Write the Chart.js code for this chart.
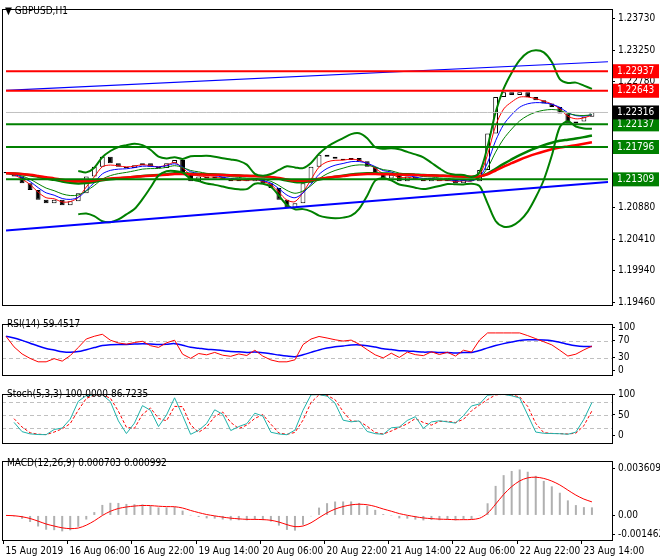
<!DOCTYPE html>
<html><head><meta charset="utf-8">
<script src="https://cdn.jsdelivr.net/npm/chart.js@4"></script>
<style>
body{margin:0;background:#fff;width:660px;height:560px;overflow:hidden;position:relative}
.p{position:absolute;left:0;width:660px}
.lbl{position:absolute;font-size:10px;color:#000;font-family:"DejaVu Sans Condensed","DejaVu Sans",sans-serif}
</style></head><body>
<div class="p" style="top:0;height:314px"><canvas id="c1" width="660" height="314"></canvas></div>
<div class="p" style="top:315px;height:69px"><canvas id="c2" width="660" height="69"></canvas></div>
<div class="p" style="top:385px;height:67px"><canvas id="c3" width="660" height="67"></canvas></div>
<div class="p" style="top:452px;height:108px"><canvas id="c4" width="660" height="108"></canvas></div>
<div class="lbl" style="left:5px;top:5px">▼ GBPUSD,H1</div>
<div class="lbl" style="left:7px;top:318px">RSI(14) 59.4517</div>
<div class="lbl" style="left:7px;top:388px">Stoch(5,3,3) 100.0000 86.7235</div>
<div class="lbl" style="left:7px;top:457px">MACD(12,26,9) 0.000703 0.000992</div>
<script>
const closes=[1.2140,1.2135,1.2125,1.2115,1.2100,1.2095,1.2100,1.2092,1.2098,1.2110,1.2135,1.2150,1.2165,1.2155,1.2150,1.2148,1.2152,1.2155,1.2150,1.2148,1.2155,1.2160,1.2140,1.2128,1.2135,1.2132,1.2135,1.2130,1.2128,1.2130,1.2128,1.2132,1.2125,1.2118,1.2100,1.2088,1.2095,1.2125,1.2150,1.2168,1.2165,1.2162,1.2160,1.2163,1.2158,1.2150,1.2140,1.2132,1.2138,1.2128,1.2135,1.2130,1.2128,1.2132,1.2128,1.2130,1.2125,1.2130,1.2128,1.2145,1.2200,1.2255,1.2262,1.2258,1.2262,1.2255,1.2250,1.2245,1.2240,1.2230,1.2215,1.2218,1.2225,1.2232];
const firstOpen=1.2142;
const timeLabels=["15 Aug 2019","16 Aug 06:00","16 Aug 22:00","19 Aug 14:00","20 Aug 06:00","20 Aug 22:00","21 Aug 14:00","22 Aug 06:00","22 Aug 22:00","23 Aug 14:00"];
const priceTicks=[1.23730,1.23250,1.22780,1.20880,1.20410,1.19940,1.19460];
const redLevels=[1.22937,1.22643];
const greenLevels=[1.22137,1.21796,1.21309];
const currentPrice=1.22316;
const blueTrendUpper=[1.2265,1.2308];
const blueTrendLower=[1.2054,1.2127];
const rsiTicks=[100,70,30,0], stochTicks=[100,80,50,20,0], macdTicks=[0.003609,0.00,-0.001462];

const FONT='"DejaVu Sans Condensed", "DejaVu Sans"';
const N=76;
const labels=Array.from({length:N},(_,i)=>i);
const opens=closes.map((c,i)=>i?closes[i-1]:firstOpen);
function sma(a,p){return a.map((_,i)=>i<p-1?null:a.slice(i-p+1,i+1).reduce((s,v)=>s+v,0)/p);}
function ema(a,p){const k=2/(p+1);let e=null;return a.map(v=>{if(v==null)return null;e=e==null?v:v*k+e*(1-k);return e;});}
function pad(a){return a.concat(Array(N-a.length).fill(null));}
const bbMid=sma(closes,10);
const bbUp=bbMid.map((m,i)=>{if(m==null)return null;const s=closes.slice(i-9,i+1);const sd=Math.sqrt(s.reduce((t,v)=>t+(v-m)**2,0)/10);return m+2*sd;});
const bbLo=bbMid.map((m,i)=>m==null?null:2*m-bbUp[i]);
const ma1=ema(closes,3),ma2=ema(closes,5),ma3=ema(closes,8),maSlow=ema(closes,40),maSlow2=ema(closes,30);
const rsi=[];let ag=0.0004,al=0.0002;closes.forEach((c,i)=>{if(!i){rsi.push(80);return;}const d=c-closes[i-1];const g=Math.max(d,0),l=Math.max(-d,0);ag=(ag*4+g)/5;al=(al*4+l)/5;rsi.push(Math.max(20,Math.min(88,100-100/(1+ag/al))));});
const rsiMa=ema(rsi,12);
const kRaw=closes.map((c,i)=>{const s=closes.slice(Math.max(0,i-3),i+1);const hi=Math.max(...s)+0.0001,lo=Math.min(...s)-0.0001;return 100*(c-lo)/(hi-lo);});
const kS=sma(kRaw,2),dS=sma(kS.map(v=>v==null?50:v),2);
const e1=ema(closes,6),e2=ema(closes,13);const macd=closes.map((_,i)=>e1[i]-e2[i]);const sig=ema(macd,5);

function lineDS(d,c,w,extra){return Object.assign({type:'line',data:pad(d),borderColor:c,borderWidth:w,pointRadius:0,fill:false,tension:0.3},extra||{});}
function hline(v,c,w){return {type:'line',data:Array(N).fill(v),borderColor:c,borderWidth:w,pointRadius:0,fill:false};}
function tline(a,b,c,w){const d=Array(N).fill(null);d[0]=a;d[N-1]=b;return {type:'line',data:d,borderColor:c,borderWidth:w,pointRadius:0,spanGaps:true};}

const frame={id:'frame',afterDraw(ch){const a=ch.chartArea,x=ch.ctx;x.save();x.strokeStyle='#000';x.lineWidth=1;x.strokeRect(a.left+0.5,a.top+0.5,a.right-a.left,a.bottom-a.top);x.restore();}};
function yScale(min,max,ticks,fmt){return {position:'right',min,max,afterBuildTicks(s){s.ticks=ticks.map(v=>({value:v}));},afterFit(s){s.width=48;},
 ticks:{color:'#000',font:{size:10,family:FONT},padding:3,callback:fmt},grid:{drawOnChartArea:false,color:'#000',tickLength:3},border:{color:'#000'}};}
const xHidden={display:false,offset:true};
const base={responsive:false,animation:false,plugins:{legend:{display:false},tooltip:{enabled:false}},layout:{padding:{left:2,top:1,right:0,bottom:0}}};

const boxes={id:'boxes',afterDraw(ch){const y=ch.scales.y,a=ch.chartArea,x=ch.ctx;x.save();x.font='10px '+FONT;x.textBaseline='middle';
 const items=redLevels.map(v=>[v,'#ff0000']).concat(greenLevels.map(v=>[v,'#008000'])).concat([[currentPrice,'#000']]);
 items.forEach(([v,c])=>{const py=y.getPixelForValue(v);x.fillStyle=c;x.fillRect(a.right+1,py-7,46,14);x.fillStyle='#fff';x.fillText(v.toFixed(5),a.right+5,py);});x.restore();}};
const candleC=closes.map((c,i)=>c>=opens[i]?'#fff':'#000');
new Chart(document.getElementById('c1'),{type:'bar',data:{labels,datasets:[
 hline(currentPrice,'#c0c0c0',1),
 ...redLevels.map(v=>hline(v,'#ff0000',2)),
 ...greenLevels.map(v=>hline(v,'#008000',2)),
 tline(...blueTrendUpper,'#0000ff',1.2),tline(...blueTrendLower,'#0000ff',2),
 lineDS(bbUp,'#008000',2),lineDS(bbLo,'#008000',2),
 lineDS(maSlow,'#ff0000',2.5),lineDS(maSlow2,'#008000',2.5),
 lineDS(ma3,'#008000',1),lineDS(ma2,'#0000ff',1),lineDS(ma1,'#ff0000',1),
 {type:'bar',data:pad(closes.map((c,i)=>[opens[i],c+(c===opens[i]?0.00005:0)])),backgroundColor:pad(candleC),borderColor:'#000',borderWidth:1,borderSkipped:false,barPercentage:0.6,categoryPercentage:1}
]},options:Object.assign({},base,{scales:{x:xHidden,y:yScale(1.19417,1.23874,priceTicks,v=>v.toFixed(5))}}),plugins:[frame,boxes]});

const dashed={id:'dl',beforeDatasetsDraw(ch){const l=ch.options.levels||[];const y=ch.scales.y,a=ch.chartArea,x=ch.ctx;x.save();x.strokeStyle='#c0c0c0';x.setLineDash([4,3]);l.forEach(v=>{const py=Math.round(y.getPixelForValue(v))+0.5;x.beginPath();x.moveTo(a.left,py);x.lineTo(a.right,py);x.stroke();});x.restore();}};
new Chart(document.getElementById('c2'),{type:'line',data:{labels,datasets:[lineDS(rsi,'#ff0000',1,{tension:0}),lineDS(rsiMa,'#0000ff',1.5)]},
 options:Object.assign({},base,{levels:[70,30],scales:{x:xHidden,y:yScale(-11,109,rsiTicks,v=>String(v))}}),plugins:[frame,dashed]});
new Chart(document.getElementById('c3'),{type:'line',data:{labels,datasets:[lineDS(kS,'#20b2aa',1,{tension:0}),lineDS(dS,'#ff0000',1,{tension:0,borderDash:[3,2]})]},
 options:Object.assign({},base,{levels:[80,50,20],scales:{x:xHidden,y:yScale(-17,100,stochTicks,v=>String(v))}}),plugins:[frame,dashed]});
const times={id:'times',afterDraw(ch){const xs=ch.scales.x,a=ch.chartArea,x=ch.ctx;x.save();x.font='10px '+FONT;x.fillStyle='#000';x.strokeStyle='#000';x.textBaseline='top';
 timeLabels.forEach((t,k)=>{const px=Math.round(xs.getPixelForValue(k*8)-3)+0.5;x.beginPath();x.moveTo(px,a.bottom);x.lineTo(px,a.bottom+4);x.stroke();x.fillText(t,px+2,a.bottom+6);});x.restore();}};
new Chart(document.getElementById('c4'),{type:'bar',data:{labels,datasets:[
 lineDS(sig,'#ff0000',1,{tension:0.3}),
 {type:'bar',data:pad(macd),backgroundColor:'#b0b0b0',barPercentage:0.25,categoryPercentage:1}
]},options:Object.assign({},base,{layout:{padding:{left:2,top:1,right:0,bottom:20}},scales:{x:xHidden,y:yScale(-0.001879,0.004164,macdTicks,v=>v===0?'0.00':v.toFixed(6))}}),plugins:[frame,times]});
</script></body></html>
